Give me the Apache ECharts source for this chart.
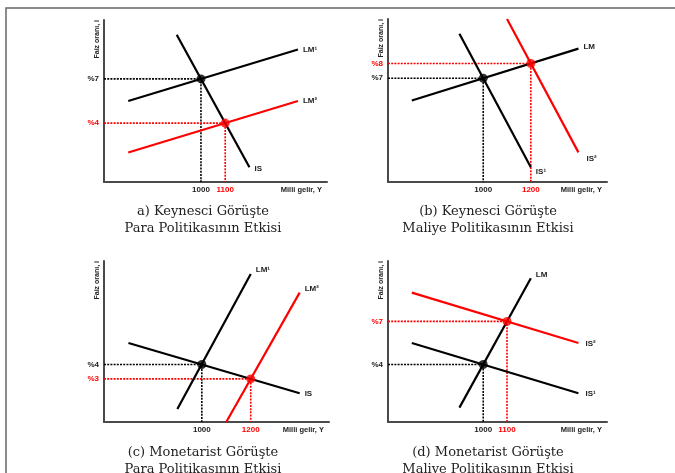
<!DOCTYPE html>
<html><head><meta charset="utf-8">
<script src="https://cdn.jsdelivr.net/npm/echarts@6/dist/echarts.min.js"></script>
<style>html,body{margin:0;padding:0;background:#fff}#c{width:675px;height:473px}</style>
</head><body><div id="c"></div>
<script>
// ---- shared axis ranges ----
const xRange = [600, 1520];
const yMaxTop = 11;
const yMaxBottom = 11.2;

// ---- (a) Keynesci – Para Politikası ----
const aLM1 = [[700, 5.5], [1400, 9]];
const aLM2 = [[700, 2], [1400, 5.5]];
const aIS  = [[900, 10], [1200, 1]];
const aEqOld = [1000, 7];
const aEqNew = [1100, 4];
const aXTicks = [1000, 1100];
const aYTicks = [7, 4];

// ---- (b) Keynesci – Maliye Politikası ----
const bLM  = [[700, 5.5], [1400, 9]];
const bIS1 = [[900, 10], [1200, 1]];
const bIS2 = [[1100, 11], [1400, 2]];
const bEqOld = [1000, 7];
const bEqNew = [1200, 8];
const bXTicks = [1000, 1200];
const bYTicks = [8, 7];

// ---- (c) Monetarist – Para Politikası ----
const cLM1 = [[900, 0.9], [1200, 10.3]];
const cLM2 = [[1100, 0], [1400, 9]];
const cIS  = [[700, 5.5], [1400, 2]];
const cEqOld = [1000, 4];
const cEqNew = [1200, 3];
const cXTicks = [1000, 1200];
const cYTicks = [4, 3];

// ---- (d) Monetarist – Maliye Politikası ----
const dLM  = [[900, 1], [1200, 10]];
const dIS1 = [[700, 5.5], [1400, 2]];
const dIS2 = [[700, 9], [1400, 5.5]];
const dEqOld = [1000, 4];
const dEqNew = [1100, 7];
const dXTicks = [1000, 1100];
const dYTicks = [7, 4];

const captions = [
  'a) Keynesci Görüşte\nPara Politikasının Etkisi',
  '(b) Keynesci Görüşte\nMaliye Politikasının Etkisi',
  '(c) Monetarist Görüşte\nPara Politikasının Etkisi',
  '(d) Monetarist Görüşte\nMaliye Politikasının Etkisi'
];
const xName = 'Milli gelir, Y';
const yName = 'Faiz oranı, i';

const BLACK = '#000000';
const RED = '#ff0000';
const AXIS = '#4a4a4a';

const panels = [
  { grid: {left: 104, top: 20, width: 223, height: 162}, yMax: yMaxTop,
    lines: [{n: 'LM¹', d: aLM1, c: BLACK, off: [0, 0]}, {n: 'LM²', d: aLM2, c: RED, off: [0, 0]}, {n: 'IS', d: aIS, c: BLACK, off: [0, 2]}],
    eq: [aEqOld, aEqNew], xt: aXTicks, yt: aYTicks, cap: [203, 203] },
  { grid: {left: 388, top: 19, width: 219, height: 163}, yMax: yMaxTop,
    lines: [{n: 'LM', d: bLM, c: BLACK, off: [0, -2]}, {n: 'IS¹', d: bIS1, c: BLACK, off: [0, 5]}, {n: 'IS²', d: bIS2, c: RED, off: [3, 6]}],
    eq: [bEqOld, bEqNew], xt: bXTicks, yt: bYTicks, cap: [488, 203] },
  { grid: {left: 104, top: 261, width: 225, height: 161}, yMax: yMaxBottom,
    lines: [{n: 'LM¹', d: cLM1, c: BLACK, off: [0, -4]}, {n: 'LM²', d: cLM2, c: RED, off: [0, -4]}, {n: 'IS', d: cIS, c: BLACK, off: [0, 1]}],
    eq: [cEqOld, cEqNew], xt: cXTicks, yt: cYTicks, cap: [203, 444] },
  { grid: {left: 388, top: 261, width: 219, height: 161}, yMax: yMaxBottom,
    lines: [{n: 'LM', d: dLM, c: BLACK, off: [0, -3]}, {n: 'IS¹', d: dIS1, c: BLACK, off: [2, 1]}, {n: 'IS²', d: dIS2, c: RED, off: [2, 1]}],
    eq: [dEqOld, dEqNew], xt: dXTicks, yt: dYTicks, cap: [488, 444] }
];

const grids = [], xAxes = [], yAxes = [], series = [], graphics = [];
const lblFont = {fontFamily: 'Liberation Sans', fontWeight: 'bold', fontSize: 8};

panels.forEach((p, i) => {
  grids.push(p.grid);
  const newX = p.eq[1][0], newY = p.eq[1][1];
  xAxes.push({
    type: 'value', gridIndex: i, min: xRange[0], max: xRange[1],
    splitLine: {show: false}, axisTick: {show: false},
    axisLine: {show: true, onZero: false, lineStyle: {color: AXIS, width: 2}},
    axisLabel: Object.assign({
      customValues: p.xt, margin: 4, showMinLabel: true, showMaxLabel: true,
      formatter: v => String(v),
      color: v => (Number(v) === newX ? RED : '#222')
    }, lblFont),
    name: xName, nameLocation: 'end', nameGap: -5,
    nameTextStyle: {fontFamily: 'Liberation Sans', fontWeight: 'bold', fontSize: 7.5, color: '#222',
      align: 'right', verticalAlign: 'top', padding: [4, 0, 0, 0]}
  });
  yAxes.push({
    type: 'value', gridIndex: i, min: 0, max: p.yMax,
    splitLine: {show: false}, axisTick: {show: false},
    axisLine: {show: true, onZero: false, lineStyle: {color: AXIS, width: 2}},
    axisLabel: Object.assign({
      customValues: p.yt, margin: 5,
      formatter: v => '%' + v,
      color: v => (Number(v) === newY ? RED : '#222')
    }, lblFont),
    name: yName, nameLocation: 'end', nameRotate: 90, nameGap: 0,
    nameTextStyle: {fontFamily: 'Liberation Sans', fontWeight: 'bold', fontSize: 7, color: '#222',
      align: 'right', verticalAlign: 'bottom', padding: [0, 0, 3, 0]}
  });
  // dotted guides from each equilibrium to both axes
  p.eq.forEach((e, k) => {
    series.push({
      type: 'line', xAxisIndex: i, yAxisIndex: i, silent: true, symbol: 'none', z: 1,
      data: [[xRange[0], e[1]], e, [e[0], 0]],
      lineStyle: {color: k === 0 ? BLACK : RED, width: 1.6, type: [2, 1.2]}
    });
  });
  // IS / LM curves
  p.lines.forEach(l => {
    series.push({
      type: 'line', name: l.n, xAxisIndex: i, yAxisIndex: i, symbol: 'none', z: 3,
      data: l.d, lineStyle: {color: l.c, width: 2.2},
      endLabel: Object.assign({show: true, formatter: l.n, color: '#222', distance: 5, offset: l.off}, lblFont)
    });
  });
  // equilibrium points
  series.push({
    type: 'scatter', xAxisIndex: i, yAxisIndex: i, z: 4, symbolSize: 9,
    data: [{value: p.eq[0], itemStyle: {color: BLACK}}, {value: p.eq[1], itemStyle: {color: RED}}]
  });
  graphics.push({
    type: 'text', x: p.cap[0], y: p.cap[1],
    style: {text: captions[i], align: 'center', verticalAlign: 'top',
      font: '13px "DejaVu Serif"', lineHeight: 17, fill: '#222'}
  });
});

graphics.push({
  type: 'rect', shape: {x: 6, y: 8, width: 720, height: 520}, z: -1,
  style: {fill: 'none', stroke: '#666', lineWidth: 1.5}
});

const chart = echarts.init(document.getElementById('c'), null, {renderer: 'canvas'});
chart.setOption({
  animation: false,
  backgroundColor: '#fff',
  grid: grids, xAxis: xAxes, yAxis: yAxes, series: series, graphic: graphics
});
</script></body></html>
